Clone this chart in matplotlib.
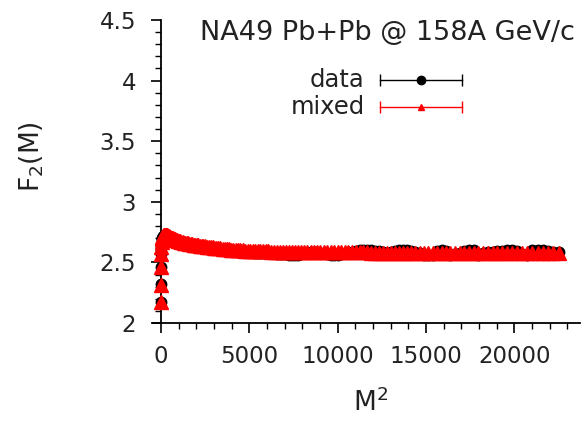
import matplotlib
matplotlib.use("Agg")
import matplotlib.pyplot as plt
from matplotlib.ticker import MultipleLocator, FormatStrFormatter

# M^2 bins (M = 1..150)
m2 = [1, 4, 9, 16, 25, 36, 49, 64, 81, 100,
      121, 144, 169, 196, 225, 256, 289, 324, 361, 400,
      441, 484, 529, 576, 625, 676, 729, 784, 841, 900,
      961, 1024, 1089, 1156, 1225, 1296, 1369, 1444, 1521, 1600,
      1681, 1764, 1849, 1936, 2025, 2116, 2209, 2304, 2401, 2500,
      2601, 2704, 2809, 2916, 3025, 3136, 3249, 3364, 3481, 3600,
      3721, 3844, 3969, 4096, 4225, 4356, 4489, 4624, 4761, 4900,
      5041, 5184, 5329, 5476, 5625, 5776, 5929, 6084, 6241, 6400,
      6561, 6724, 6889, 7056, 7225, 7396, 7569, 7744, 7921, 8100,
      8281, 8464, 8649, 8836, 9025, 9216, 9409, 9604, 9801, 10000,
      10201, 10404, 10609, 10816, 11025, 11236, 11449, 11664, 11881, 12100,
      12321, 12544, 12769, 12996, 13225, 13456, 13689, 13924, 14161, 14400,
      14641, 14884, 15129, 15376, 15625, 15876, 16129, 16384, 16641, 16900,
      17161, 17424, 17689, 17956, 18225, 18496, 18769, 19044, 19321, 19600,
      19881, 20164, 20449, 20736, 21025, 21316, 21609, 21904, 22201, 22500]

f2_mixed = [2.17, 2.31, 2.46, 2.57, 2.63, 2.67, 2.69, 2.70, 2.71, 2.715,
            2.72, 2.722, 2.724, 2.725, 2.725, 2.725, 2.724, 2.723, 2.722, 2.72,
            2.716, 2.712, 2.708, 2.705, 2.701, 2.698, 2.694, 2.69, 2.686, 2.682,
            2.679, 2.676, 2.673, 2.670, 2.667, 2.664, 2.661, 2.658, 2.656, 2.653,
            2.651, 2.648, 2.646, 2.644, 2.642, 2.640, 2.638, 2.636, 2.634, 2.632,
            2.630, 2.628, 2.626, 2.624, 2.622, 2.620, 2.618, 2.616, 2.614, 2.612,
            2.610, 2.608, 2.606, 2.605, 2.603, 2.602, 2.600, 2.599, 2.598, 2.597,
            2.596, 2.595, 2.594, 2.593, 2.592, 2.591, 2.590, 2.590, 2.589, 2.589,
            2.588, 2.588, 2.587, 2.587, 2.586, 2.586, 2.586, 2.585, 2.585, 2.585,
            2.585, 2.584, 2.584, 2.584, 2.584, 2.583, 2.583, 2.583, 2.583, 2.583,
            2.583, 2.582, 2.582, 2.582, 2.582, 2.582, 2.582, 2.582, 2.581, 2.581,
            2.581, 2.581, 2.581, 2.581, 2.581, 2.581, 2.581, 2.581, 2.580, 2.580,
            2.580, 2.580, 2.580, 2.580, 2.580, 2.580, 2.580, 2.580, 2.580, 2.580,
            2.580, 2.580, 2.580, 2.580, 2.580, 2.580, 2.580, 2.580, 2.580, 2.580,
            2.580, 2.580, 2.580, 2.581, 2.581, 2.581, 2.581, 2.581, 2.581, 2.581]

f2_data = [2.17, 2.32, 2.465, 2.57, 2.625, 2.665, 2.685, 2.70, 2.705, 2.71,
           2.715, 2.717, 2.72, 2.72, 2.72, 2.718, 2.717, 2.715, 2.713, 2.71,
           2.706, 2.702, 2.698, 2.694, 2.69, 2.686, 2.682, 2.678, 2.674, 2.67,
           2.667, 2.664, 2.66, 2.657, 2.654, 2.651, 2.648, 2.645, 2.643, 2.64,
           2.638, 2.636, 2.634, 2.631, 2.629, 2.627, 2.625, 2.623, 2.621, 2.619,
           2.617, 2.615, 2.613, 2.611, 2.609, 2.607, 2.605, 2.603, 2.601, 2.599,
           2.597, 2.595, 2.594, 2.592, 2.591, 2.589, 2.588, 2.587, 2.585, 2.584,
           2.583, 2.582, 2.581, 2.58, 2.579, 2.578, 2.577, 2.576, 2.575, 2.574,
           2.573, 2.572, 2.571, 2.566, 2.562, 2.560, 2.561, 2.563, 2.568, 2.574,
           2.578, 2.582, 2.585, 2.584, 2.580, 2.574, 2.568, 2.562, 2.560, 2.561,
           2.566, 2.574, 2.582, 2.588, 2.594, 2.600, 2.602, 2.603, 2.601, 2.598,
           2.590, 2.584, 2.580, 2.588, 2.596, 2.601, 2.603, 2.600, 2.594, 2.586,
           2.574, 2.563, 2.560, 2.562, 2.592, 2.602, 2.598, 2.562, 2.566, 2.578,
           2.590, 2.603, 2.602, 2.562, 2.575, 2.584, 2.588, 2.590, 2.595, 2.602,
           2.603, 2.598, 2.566, 2.562, 2.600, 2.604, 2.603, 2.598, 2.588, 2.582]

data_err = 0.012
mixed_err = 0.008

title_text = "NA49 Pb+Pb @ 158A GeV/c"
labels = ["data", "mixed"]

plt.rcParams['font.family'] = ['DejaVu Sans']
TXT = '#222222'

fig = plt.figure(figsize=(5.85, 4.25), dpi=100)
ax = fig.add_axes([153/585, 1-323/425, 427/585, 303/425])

ax.errorbar(m2, f2_data, yerr=data_err, fmt='o', color='black', ms=7.5,
            elinewidth=1.0, capsize=2.5, zorder=2, clip_on=False)
ax.errorbar(m2, f2_mixed, yerr=mixed_err, fmt='^', color='#ff0000', ms=9.5,
            mec='#ff0000', elinewidth=1.0, capsize=2, zorder=3, clip_on=False)

ax.set_xlim(-453, 23715)
ax.set_ylim(2, 4.5)

ax.spines['top'].set_visible(False)
ax.spines['right'].set_visible(False)
ax.spines['left'].set_position(('data', 0))
for s in ('left', 'bottom'):
    ax.spines[s].set_linewidth(1.3)

ax.xaxis.set_major_locator(MultipleLocator(5000))
ax.xaxis.set_minor_locator(MultipleLocator(1000))
ax.yaxis.set_major_locator(MultipleLocator(0.5))
ax.yaxis.set_minor_locator(MultipleLocator(0.1))
ax.yaxis.set_major_formatter(FormatStrFormatter('%g'))
ax.tick_params(which='major', direction='out', length=7, width=1.2,
               labelsize=16.5, colors='black')
ax.tick_params(which='minor', direction='out', length=4, width=1.0)
ax.tick_params(axis='y', which='major', pad=11)
ax.tick_params(axis='x', which='major', pad=9)
for lab in ax.get_xticklabels() + ax.get_yticklabels():
    lab.set_color(TXT)

fig.text(371/585, 1-403/425, "M$^2$", fontsize=19, ha='center', va='center',
         color=TXT)
fig.text(32/585, 1-157/425, "F$_2$(M)", rotation=90, fontsize=19,
         ha='center', va='center', color=TXT)

ax.text(0.988, 0.957, title_text, transform=ax.transAxes, ha='right',
        va='center', fontsize=19.5, color=TXT)

# legend (manual, gnuplot style)
leg_y = [0.802, 0.713]
leg_col = ['black', '#ff0000']
leg_mk = ['o', '^']
for lab, yy, c, mk in zip(labels, leg_y, leg_col, leg_mk):
    ax.text(0.496, yy, lab, transform=ax.transAxes, ha='right', va='center',
            fontsize=17.5, color=TXT)
    ax.plot([0.532, 0.724], [yy, yy], transform=ax.transAxes, color=c,
            lw=1.0, clip_on=False)
    ax.plot([0.532, 0.724], [yy, yy], transform=ax.transAxes, color=c,
            lw=0, marker='|', ms=8, mew=1.0, clip_on=False)
    ax.plot([0.628], [yy], transform=ax.transAxes, color=c, marker=mk,
            ms=6 if mk == 'o' else 5, lw=0, clip_on=False)

fig.savefig("out.png", dpi=100)
